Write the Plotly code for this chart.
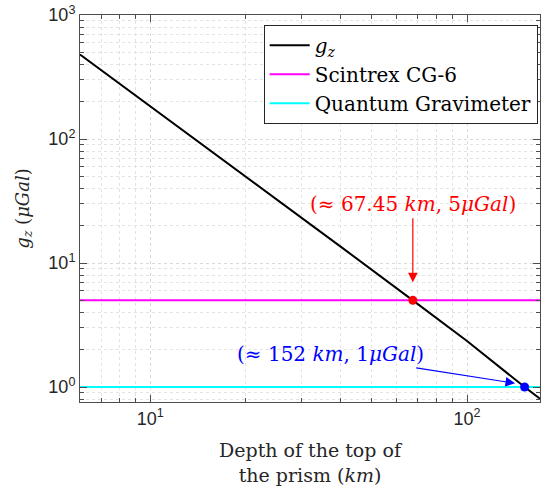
import plotly.graph_objects as go
import math

depth_km = [6, 10, 20, 40, 67.45, 100, 152, 175]
gz_ugal = [480, 184, 50, 13.5, 5, 2.35, 1, 0.76]
cg6_level = 5
qg_level = 1
x_span = [6.0, 170]
pt_red = (67.45, 5)
pt_blue = (152, 1)

serif = "DejaVu Serif"
fig = go.Figure()
fig.add_trace(go.Scatter(x=depth_km, y=gz_ugal, mode="lines", line=dict(color="black", width=2),
                         name="<i>g<sub>z</sub></i>"))
fig.add_trace(go.Scatter(x=x_span, y=[cg6_level]*2, mode="lines", line=dict(color="#ff00ff", width=2),
                         name="Scintrex CG-6"))
fig.add_trace(go.Scatter(x=x_span, y=[qg_level]*2, mode="lines", line=dict(color="#00ffff", width=2),
                         name="Quantum Gravimeter"))
fig.add_trace(go.Scatter(x=[pt_red[0]], y=[pt_red[1]], mode="markers", marker=dict(color="red", size=9),
                         showlegend=False))
fig.add_trace(go.Scatter(x=[pt_blue[0]], y=[pt_blue[1]], mode="markers", marker=dict(color="blue", size=9),
                         showlegend=False))

fig.add_annotation(x=math.log10(pt_red[0]), y=math.log10(pt_red[1]), xref="x", yref="y",
                   text="(≈ 67.45 <i>km</i>, 5<i>μGal</i>)", showarrow=True,
                   ax=0, ay=-82, arrowcolor="red", arrowhead=2, arrowsize=1.6, arrowwidth=1.2,
                   standoff=18, font=dict(family=serif, size=20, color="red"), yanchor="bottom")
fig.add_annotation(x=math.log10(pt_blue[0]) - 0.03, y=math.log10(pt_blue[1]) + 0.03, xref="x", yref="y",
                   text="(≈ 152 <i>km</i>, 1<i>μGal</i>)", showarrow=True,
                   ax=-185, ay=-29, arrowcolor="blue", arrowhead=2, arrowsize=1.6, arrowwidth=1.2,
                   standoff=0, font=dict(family=serif, size=20, color="blue"), xanchor="center")

axis_common = dict(type="log", showline=True, linecolor="#4d4d4d", linewidth=1, mirror="ticks",
                   ticks="inside", ticklen=7, tickcolor="#4d4d4d", automargin=False,
                   ticklabeloverflow="allow",
                   showgrid=True, gridcolor="#d9d9d9", griddash="dot", gridwidth=1, zeroline=False,
                   tickfont=dict(family="Liberation Sans", size=18, color="#262626"),
                   minor=dict(ticks="inside", ticklen=4, tickcolor="#4d4d4d", showgrid=True,
                              gridcolor="#e3e3e3", griddash="dot", dtick="D1"))
fig.update_xaxes(**axis_common, range=[math.log10(6.0), math.log10(170)],
                 tickvals=[10, 100], ticktext=["10<sup>1</sup>", "10<sup>2</sup>"],
                 title=dict(text="Depth of the top of<br>the prism (<i>km</i>)",
                            font=dict(family=serif, size=19, color="#262626"), standoff=16))
fig.update_yaxes(**axis_common, range=[math.log10(0.757), 3.0005],
                 tickvals=[1, 10, 100, 1000],
                 ticktext=["10<sup>0</sup>", "10<sup>1</sup>", "10<sup>2</sup>", "10<sup>3</sup>"],
                 title=dict(text="<i>g<sub>z</sub></i> (<i>μGal</i>)",
                            font=dict(family=serif, size=18, color="#262626"), standoff=14))
fig.update_layout(width=541, height=493, margin=dict(l=80, r=1, t=15, b=91),
                  plot_bgcolor="white", paper_bgcolor="white",
                  legend=dict(x=0.995, y=0.975, xanchor="right", yanchor="top",
                              bgcolor="white", bordercolor="#262626", borderwidth=1,
                              font=dict(family=serif, size=20, color="black"),
                              itemwidth=40, tracegroupgap=0))
# remove the page's default 8px body margin so the figure fills the window
fig.write_html("out.html", config={"displayModeBar": False},
               post_script="document.body.style.margin='0';")
